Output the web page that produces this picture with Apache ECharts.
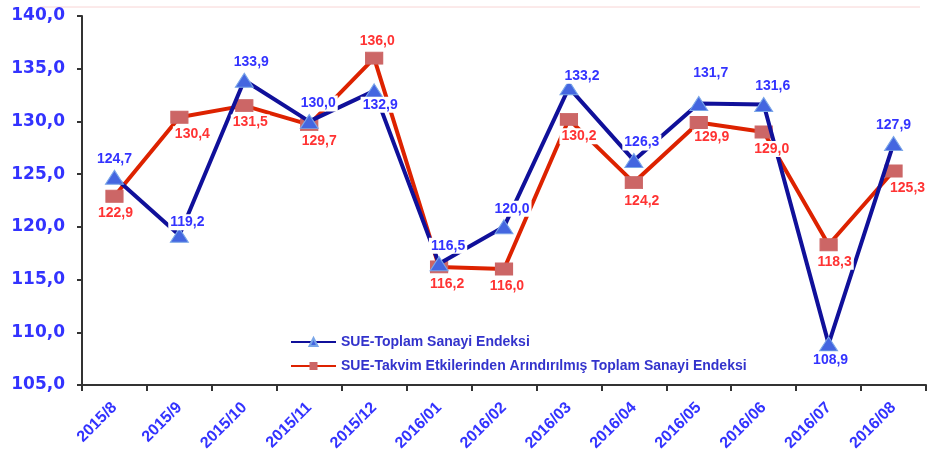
<!DOCTYPE html>
<html>
<head>
<meta charset="utf-8">
<script src="https://cdn.jsdelivr.net/npm/echarts@6/dist/echarts.min.js"></script>
<style>html,body{margin:0;padding:0;background:#fff;}#c{width:937px;height:456px;}</style>
</head>
<body>
<div id="c"></div>
<script>
var categories = ['2015/8','2015/9','2015/10','2015/11','2015/12','2016/01','2016/02','2016/03','2016/04','2016/05','2016/06','2016/07','2016/08'];
var toplam = [124.7, 119.2, 133.9, 130.0, 132.9, 116.5, 120.0, 133.2, 126.3, 131.7, 131.6, 108.9, 127.9];
var takvim = [122.9, 130.4, 131.5, 129.7, 136.0, 116.2, 116.0, 130.2, 124.2, 129.9, 129.0, 118.3, 125.3];
var seriesNames = ['SUE-Toplam Sanayi Endeksi', 'SUE-Takvim Etkilerinden Arındırılmış Toplam Sanayi Endeksi'];

// label placement (style only)
var blueLabelPos = [['top',[0,0]],['top',[8,5]],['top',[7,0]],['top',[9,0]],['bottom',[6,-4]],['top',[9,0]],['top',[8,0]],['top',[13,6]],['top',[8,0]],['top',[12,-12]],['top',[9,0]],['bottom',[2,-2]],['top',[0,0]]];
var redLabelPos = [['bottom',[1,0]],['bottom',[13,0]],['bottom',[6,0]],['bottom',[10,0]],['top',[3,0]],['bottom',[8,0]],['bottom',[3,0]],['bottom',[10,0]],['bottom',[8,2]],['bottom',[13,-2]],['bottom',[8,0]],['bottom',[6,0]],['bottom',[14,0]]];

function fmt(v){ return v.toFixed(1).replace('.', ','); }
function build(vals, pos){
  return vals.map(function(v,i){
    return {value: v, label: {position: pos[i][0], offset: pos[i][1]}};
  });
}
var FONT = '"Liberation Sans", Arial, sans-serif';
var WIDE = '"DejaVu Sans", "Liberation Sans", sans-serif';
function labelSeries(name, vals, pos, color, symbol, size){
  return {
    name: name, type: 'line', data: build(vals, pos), z: 10, silent: true,
    lineStyle: {width: 0, color: 'rgba(0,0,0,0)'},
    itemStyle: {color: 'rgba(0,0,0,0)', borderWidth: 0},
    symbol: symbol, symbolSize: size,
    label: {show: true, color: color, fontSize: 14, fontWeight: 'bold', fontFamily: FONT,
      backgroundColor: '#fff', padding: [1, 2], distance: 3,
      formatter: function(p){return fmt(p.value);}}
  };
}
var chart = echarts.init(document.getElementById('c'));
chart.setOption({
  animation: false,
  backgroundColor: '#fff',
  grid: {left: 82, right: 11, top: 16, bottom: 71},
  graphic: [{type:'line', shape:{x1:40,y1:7,x2:920,y2:7}, style:{stroke:'#f8d4d4', lineWidth:1}, silent:true}],
  legend: {
    orient: 'vertical', left: 285, top: 330, itemWidth: 45, itemHeight: 10, itemGap: 10,
    textStyle: {color: '#3333cc', fontSize: 14, fontWeight: 'bold', fontFamily: FONT},
    data: seriesNames
  },
  xAxis: {
    type: 'category', data: categories, boundaryGap: true,
    axisLine: {lineStyle: {color: '#333', width: 2}},
    axisTick: {show: true, length: 6, lineStyle: {color: '#333', width: 2}},
    axisLabel: {rotate: 45, color: '#3333ff', fontSize: 16, fontWeight: 'bold', fontFamily: FONT, margin: 20, interval: 0},
    splitLine: {show: false}
  },
  yAxis: {
    type: 'value', min: 105, max: 140, interval: 5,
    axisLine: {show: true, lineStyle: {color: '#333', width: 2}},
    axisTick: {show: true, length: 5, lineStyle: {color: '#333', width: 2}},
    axisLabel: {color: '#3333ff', fontSize: 17, fontWeight: 'bold', fontFamily: WIDE, margin: 17, formatter: function(v){return fmt(v);}},
    splitLine: {show: false}
  },
  series: [
    {
      name: seriesNames[0], type: 'line', data: toplam,
      lineStyle: {color: '#10109a', width: 4},
      itemStyle: {color: '#4466e0', borderColor: '#7aa6e8', borderWidth: 1},
      symbol: 'triangle', symbolSize: [18, 14], z: 3
    },
    {
      name: seriesNames[1], type: 'line', data: takvim,
      lineStyle: {color: '#dd2200', width: 4},
      itemStyle: {color: '#cc6666', borderColor: '#cc6666'},
      symbol: 'rect', symbolSize: [17, 12], z: 2
    },
    labelSeries('toplamLabels', toplam, blueLabelPos, '#3333ff', 'triangle', [18, 14]),
    labelSeries('takvimLabels', takvim, redLabelPos, '#ff3333', 'rect', [17, 12])
  ]
});
</script>
</body>
</html>
